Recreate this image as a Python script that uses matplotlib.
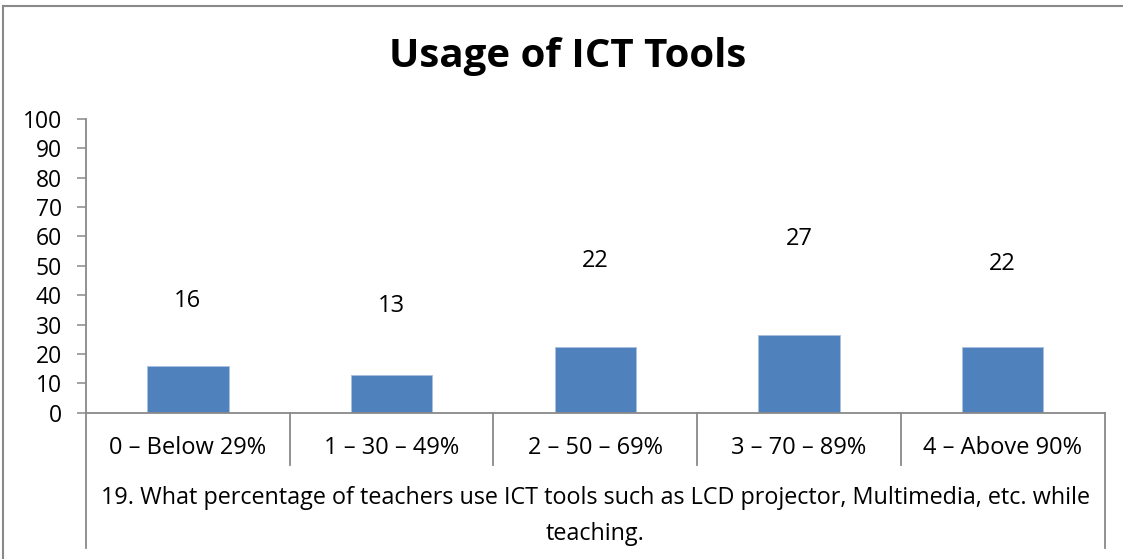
import numpy as np
import matplotlib
matplotlib.use("Agg")
import matplotlib.pyplot as plt
from matplotlib.lines import Line2D

# data
categories = ["0 – Below 29%", "1 – 30 – 49%", "2 – 50 – 69%", "3 – 70 – 89%", "4 – Above 90%"]
values = [16.0, 12.8, 22.2, 26.5, 22.2]
value_labels = ["16", "13", "22", "27", "22"]
group_label = "19. What percentage of teachers use ICT tools such as LCD projector, Multimedia, etc. while\nteaching."
title = "Usage of ICT Tools"
y_ticks = list(range(0, 101, 10))

# label lift above each bar (data units), as placed in the reference
label_lift = [22.0, 23.5, 29.4, 32.6, 28.3]

BAR_COLOR = "#4F81BD"
AXIS_COLOR = "#898989"
FONT = ["Open Sans", "DejaVu Sans"]

plt.rcParams["font.family"] = FONT

W, H = 1123, 559
fig = plt.figure(figsize=(W / 100, H / 100), dpi=100)


def px(x0, y0, x1, y1):
    # pixel box -> figure fraction rect
    return [x0 / W, 1 - y1 / H, (x1 - x0) / W, (y1 - y0) / H]


ax = fig.add_axes(px(86, 119, 1104.5, 412.7))

x = np.arange(len(categories))
ax.bar(x, values, width=0.4, color=BAR_COLOR, edgecolor="#a9c0e0", linewidth=0.6, zorder=2)

for xi, v, lab, lift in zip(x, values, value_labels, label_lift):
    ax.text(xi, v + lift, lab, ha="center", va="center", fontsize=17, color="black")

ax.set_xlim(-0.5, len(categories) - 0.5)
ax.set_ylim(0, 100)
ax.set_yticks(y_ticks)
ax.tick_params(axis="y", length=6.5, width=1.1, color=AXIS_COLOR, pad=11, labelsize=16.5)
ax.set_xticks([])

for side in ["top", "right"]:
    ax.spines[side].set_visible(False)
for side in ["left", "bottom"]:
    ax.spines[side].set_color(AXIS_COLOR)
    ax.spines[side].set_linewidth(1.3)

# multi-level category axis like Excel
trans = ax.get_xaxis_transform()
span = 412.7 - 119
row1 = -(465 - 412.7) / span
row2 = -(548 - 412.7) / span
for b in np.arange(-0.5, len(categories), 1.0):
    bottom = row2 if b in (-0.5, len(categories) - 0.5) else row1
    ax.plot([b, b], [0, bottom], color=AXIS_COLOR, lw=1.3, transform=trans, clip_on=False)

for xi, cat in zip(x, categories):
    ax.text(xi, -(448.5 - 412.7) / span, cat, ha="center", va="center",
            fontsize=17, transform=trans)

ax.text((len(categories) - 1) / 2, -(516 - 412.7) / span, group_label,
        ha="center", va="center", fontsize=16.8, linespacing=1.62, transform=trans)

fig.text(568 / W, 1 - 57 / H, title, ha="center", va="center", fontsize=29, fontweight="bold")

# chart area border (top and left visible)
fig.add_artist(Line2D([3 / W, 3 / W], [0, 1 - 6 / H], color=AXIS_COLOR, lw=1.5, transform=fig.transFigure))
fig.add_artist(Line2D([3 / W, 1], [1 - 6 / H, 1 - 6 / H], color=AXIS_COLOR, lw=1.5, transform=fig.transFigure))

fig.savefig("out.png", dpi=100)
